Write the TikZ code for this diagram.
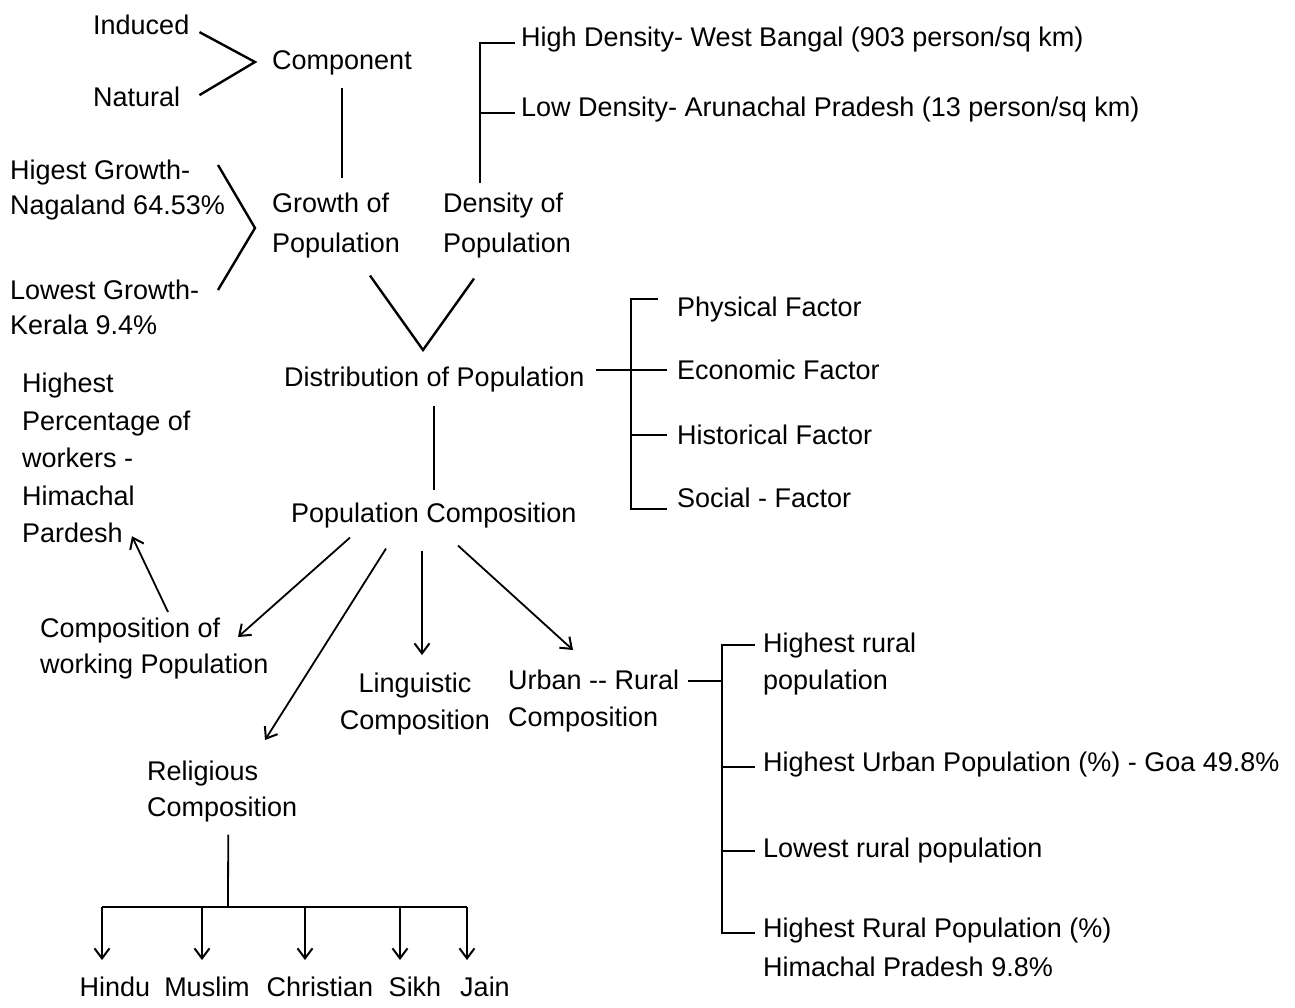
\documentclass[tikz,border=0pt]{standalone}
\usepackage{fontspec}
\setmainfont{Liberation Sans}
\usetikzlibrary{arrows.meta}

\tikzset{
  lbl/.style={anchor=north west, inner sep=0pt, align=left, font=\fontsize{27}{#1}\selectfont},
  lbl/.default=38,
  link/.style={line width=1.8pt},
  brace/.style={line width=2.4pt},
  arr/.style={line width=1.8pt, -{Straight Barb[length=10pt,width=15pt,line width=2pt]}},
}

\begin{document}
\begin{tikzpicture}[x=1pt, y=-1pt]

\useasboundingbox (0,0) rectangle (1295,1007);

\def\fx{677}
\def\rx{763}

% growth and density
\node[lbl] (ind) at (93, 15) {Induced};
\node[lbl] (nat) at (93, 87) {Natural};
\node[lbl] (comp) at (272, 50) {Component};
\node[lbl] (hd) at (521, 27) {High Density- West Bangal (903 person/sq km)};
\node[lbl] (ld) at (521, 97) {Low Density- Arunachal Pradesh (13 person/sq km)};
\node[lbl=35] (hig) at (10, 160) {Higest Growth-\\Nagaland 64.53\%};
\node[lbl=35] (low) at (10, 280) {Lowest Growth-\\Kerala 9.4\%};
\node[lbl=40] (gro) at (272, 193) {Growth of\\Population};
\node[lbl=40] (den) at (443, 193) {Density of\\Population};

\coordinate (ca) at (255, 62);
\draw[brace] ([xshift=10pt,yshift=-7pt]ind.east) -- (ca) -- ([xshift=19pt,yshift=2pt]nat.east);
\draw[link] ([yshift=-13pt]comp.south) -- ([yshift=15pt]comp.south |- gro.north);

\coordinate (cb) at (255, 228);
\draw[brace] ([xshift=208pt,yshift=-5pt]hig.north west) -- (cb) -- ([xshift=208pt,yshift=-10pt]low.north west);

\coordinate (dsp) at (480, 183);
\draw[link] (dsp) |- ([xshift=-6pt,yshift=-3pt]hd.west);
\draw[link] ([yshift=-3pt]dsp |- ld.west) -- ([xshift=-6pt,yshift=-3pt]ld.west);

% distribution
\node[lbl] (dist) at (284, 367) {Distribution of Population};
\node[lbl] (phy) at (\fx, 297) {Physical Factor};
\node[lbl] (eco) at (\fx, 360) {Economic Factor};
\node[lbl] (his) at (\fx, 425) {Historical Factor};
\node[lbl] (soc) at (\fx, 488) {Social - Factor};

\coordinate (cv) at (423, 350);
\draw[brace] ([xshift=34pt,yshift=-17pt]gro.south) -- (cv) -- ([xshift=-33pt,yshift=-20pt]den.south);

\coordinate (fsp) at (631, 370);
\draw[link] ([xshift=11pt]dist.east |- eco.west) -- ([xshift=-10pt]eco.west);
\draw[link] ([xshift=-19pt,yshift=11pt]phy.west) -| (fsp);
\draw[link] (fsp |- his.west) -- ([xshift=-10pt]his.west);
\draw[link] (fsp) |- ([xshift=-10pt,yshift=-11pt]soc.west);

% composition
\node[lbl] (pc) at (291, 503) {Population Composition};
\draw[link] ([xshift=150pt,yshift=-13pt]dist.south west) -- ([xshift=150pt,yshift=13pt]dist.south west |- pc.north);

\node[lbl=37.5] (hpw) at (22, 373) {Highest\\Percentage of\\workers -\\Himachal\\Pardesh};
\node[lbl=36] (cw) at (40, 618) {Composition of\\working Population};
\node[lbl=37, anchor=north, align=center] (lin) at (415, 673) {Linguistic\\Composition};
\node[lbl=37] (ur) at (508, 670) {Urban -{}- Rural\\Composition};
\node[lbl=36] (rel) at (147, 761) {Religious\\Composition};

\draw[arr] ([xshift=59pt,yshift=-9pt]pc.south west) -- ([xshift=198pt,yshift=-19pt]cw.north west);
\draw[arr] ([xshift=95pt,yshift=-20pt]pc.south west) -- ([xshift=118pt,yshift=21pt]rel.north west);
\draw[arr] ([xshift=131pt,yshift=-22pt]pc.south west) -- ([xshift=7pt,yshift=18pt]lin.north);
\draw[arr] ([xshift=167pt,yshift=-17pt]pc.south west) -- ([xshift=65pt,yshift=20pt]ur.north west);
\draw[arr] ([xshift=128pt,yshift=6pt]cw.north west) -- ([xshift=110pt,yshift=7pt]hpw.south west);

% urban -- rural
\node[lbl=37] (hrp) at (\rx, 633) {Highest rural\\population};
\node[lbl] (hup) at (\rx, 752) {Highest Urban Population (\%) - Goa 49.8\%};
\node[lbl] (lrp) at (\rx, 838) {Lowest rural population};
\node[lbl=39] (hrr) at (\rx, 918) {Highest Rural Population (\%)\\Himachal Pradesh 9.8\%};

\coordinate (usp) at (722, 681);
\draw[link] ([xshift=9pt,yshift=-11pt]ur.north east) -- (usp);
\draw[link] ([xshift=-8pt,yshift=-12pt]hrp.north west) -| (usp);
\draw[link] ([yshift=-2pt]usp |- hup.west) -- ([xshift=-8pt,yshift=-2pt]hup.west);
\draw[link] (usp |- lrp.west) -- ([xshift=-8pt]lrp.west);
\draw[link] (usp) |- ([xshift=-8pt,yshift=-15pt]hrr.north west);

% religions
\node[lbl, anchor=north] (hin) at (115, 977) {Hindu};
\node[lbl, anchor=north] (mus) at (207, 977) {Muslim};
\node[lbl, anchor=north] (chr) at (320, 977) {Christian};
\node[lbl, anchor=north] (sik) at (415, 977) {Sikh};
\node[lbl, anchor=north] (jai) at (485, 977) {Jain};

\coordinate (rsp) at (228, 907);
\draw[link] ([xshift=6pt,yshift=-12pt]rel.south) -- (rsp);
\draw[link] ([xshift=-13pt]hin.north |- rsp) -- ([xshift=-18pt]jai.north |- rsp);
\foreach \r/\dx in {hin/-13, mus/-5, chr/-15, sik/-15, jai/-18}
  \draw[arr] ([xshift=\dx pt]\r.north |- rsp) -- ([xshift=\dx pt,yshift=17pt]\r.north);

\end{tikzpicture}
\end{document}
